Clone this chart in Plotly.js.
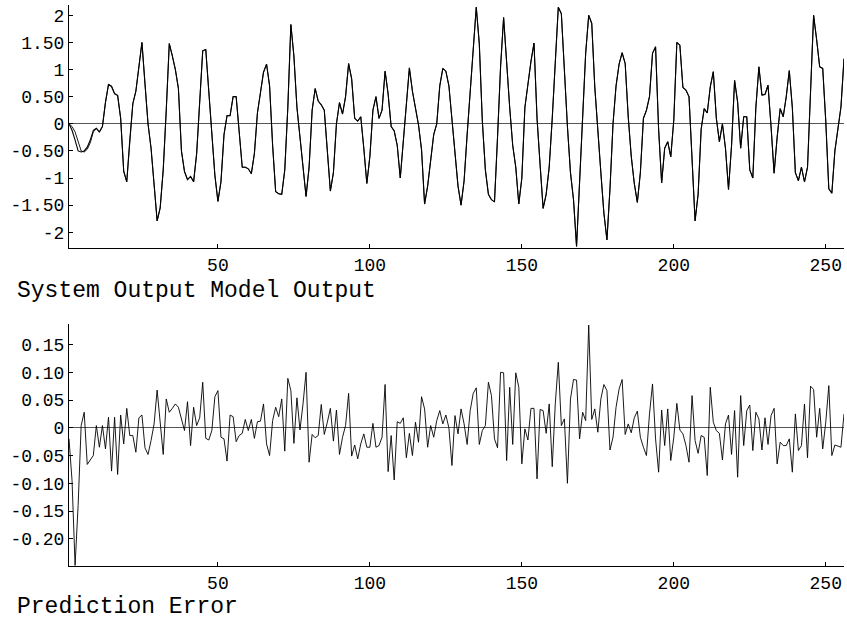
<!DOCTYPE html>
<html>
<head>
<meta charset="utf-8">
<script src="https://cdn.plot.ly/plotly-3.0.1.min.js"></script>
<style>html,body{margin:0;padding:0;background:#fff;}#chart{width:847px;height:623px;}</style>
</head>
<body>
<div id="chart"></div>
<script>
// System output (samples 1..256)
const systemOutput = [
 0.0,-0.12,-0.3,-0.5,-0.52,-0.5,-0.43,-0.3,-0.12,-0.08,
 -0.15,-0.05,0.4,0.73,0.68,0.55,0.52,0.1,-0.88,-1.07,
 -0.3,0.37,0.6,1.05,1.5,0.74,0.0,-0.45,-1.1,-1.79,
 -1.55,-0.85,0.25,1.48,1.25,1.0,0.65,-0.5,-0.88,-1.03,
 -0.97,-1.07,-0.55,0.35,1.35,1.37,0.6,-0.2,-0.95,-1.43,
 -1.07,-0.2,0.15,0.15,0.5,0.5,-0.2,-0.8,-0.8,-0.83,
 -0.92,-0.55,0.2,0.6,0.95,1.1,0.7,-0.4,-1.25,-1.29,
 -1.3,-0.85,0.3,1.83,1.25,0.3,-0.25,-0.8,-1.34,-0.8,
 0.25,0.65,0.42,0.35,0.25,-0.5,-1.24,-0.9,0.0,0.39,
 0.18,0.5,1.11,0.83,0.1,0.05,0.13,-0.45,-1.1,-0.6,
 0.25,0.5,0.1,0.25,0.97,0.55,-0.05,-0.13,-0.4,-1.0,
 -0.3,0.5,1.03,0.6,0.3,-0.02,-0.48,-1.48,-1.15,-0.65,
 -0.2,0.0,0.7,1.02,0.97,0.7,0.05,-0.55,-1.15,-1.5,
 -1.05,-0.2,0.6,1.55,2.15,1.48,0.05,-0.85,-1.3,-1.4,
 -1.44,-0.25,1.05,1.96,1.1,0.3,-0.4,-0.8,-1.48,-1.0,
 0.3,0.75,1.15,1.49,0.1,-0.75,-1.56,-1.3,-0.8,0.1,
 1.1,2.15,2.03,0.87,-0.05,-0.9,-1.4,-2.26,-0.98,0.25,
 1.3,2.0,1.85,0.68,-0.2,-0.9,-1.65,-2.14,-1.2,0.0,
 0.7,1.1,1.31,1.11,0.13,-0.6,-1.1,-1.45,-0.9,0.1,
 0.25,0.5,1.3,1.42,-0.1,-1.09,-0.45,-0.33,-0.61,0.07,
 1.5,1.45,0.67,0.62,0.5,-0.6,-1.79,-1.3,-0.1,0.28,
 0.2,0.68,0.96,0.1,-0.33,0.0,-0.45,-1.21,-0.4,0.8,
 0.4,-0.45,0.13,0.13,-0.85,-1.0,0.3,1.05,0.53,0.54,
 0.71,-0.05,-0.91,-0.25,0.28,0.13,0.5,0.98,0.3,-0.9,
 -1.05,-0.8,-1.07,-0.8,0.6,2.0,1.55,1.05,1.02,0.05,
 -1.2,-1.28,-0.5,-0.06,0.31,1.2
];
// Model output (samples 1..256)
const modelOutput = [
 0.0,-0.05,-0.15,-0.35,-0.5,-0.52,-0.47,-0.35,-0.15,-0.09,
 -0.15,-0.05,0.39,0.72,0.7,0.56,0.53,0.1,-0.87,-1.07,
 -0.3,0.37,0.6,1.05,1.5,0.74,0.0,-0.45,-1.1,-1.79,
 -1.55,-0.85,0.25,1.48,1.25,1.0,0.65,-0.5,-0.88,-1.03,
 -0.97,-1.07,-0.55,0.35,1.34,1.37,0.6,-0.2,-0.95,-1.43,
 -1.07,-0.2,0.15,0.15,0.5,0.5,-0.2,-0.8,-0.8,-0.83,
 -0.92,-0.55,0.2,0.6,0.95,1.1,0.7,-0.4,-1.25,-1.29,
 -1.3,-0.85,0.3,1.83,1.25,0.3,-0.25,-0.8,-1.34,-0.8,
 0.25,0.65,0.42,0.35,0.25,-0.5,-1.24,-0.9,0.0,0.39,
 0.18,0.5,1.11,0.83,0.1,0.05,0.13,-0.45,-1.1,-0.6,
 0.25,0.5,0.1,0.25,0.97,0.55,-0.05,-0.13,-0.4,-1.0,
 -0.3,0.5,1.03,0.6,0.3,-0.02,-0.48,-1.48,-1.15,-0.65,
 -0.2,0.0,0.7,1.02,0.97,0.7,0.05,-0.55,-1.15,-1.5,
 -1.05,-0.2,0.6,1.55,2.15,1.48,0.05,-0.85,-1.3,-1.4,
 -1.44,-0.25,1.05,1.96,1.1,0.3,-0.4,-0.8,-1.48,-1.0,
 0.3,0.75,1.15,1.49,0.1,-0.75,-1.56,-1.3,-0.8,0.1,
 1.1,2.15,2.03,0.87,-0.05,-0.9,-1.4,-2.26,-0.98,0.25,
 1.3,2.0,1.85,0.68,-0.2,-0.9,-1.65,-2.14,-1.2,0.0,
 0.7,1.1,1.31,1.11,0.13,-0.6,-1.1,-1.45,-0.9,0.1,
 0.25,0.5,1.3,1.42,-0.1,-1.09,-0.45,-0.33,-0.61,0.07,
 1.5,1.45,0.67,0.62,0.5,-0.6,-1.79,-1.3,-0.1,0.28,
 0.2,0.68,0.96,0.1,-0.33,0.0,-0.45,-1.21,-0.4,0.8,
 0.4,-0.45,0.13,0.13,-0.85,-1.0,0.3,1.05,0.53,0.54,
 0.71,-0.05,-0.91,-0.25,0.28,0.13,0.5,0.98,0.3,-0.9,
 -1.05,-0.8,-1.07,-0.8,0.6,2.0,1.55,1.05,1.02,0.05,
 -1.2,-1.28,-0.5,-0.06,0.31,1.2
];
// Prediction error (samples 1..256)
const predictionError = [
 -0.02,-0.095,-0.248,-0.14,0.004,0.028,-0.066,-0.058,-0.05,0.004,
 -0.035,0.004,-0.038,0.019,-0.078,0.019,-0.084,0.023,-0.029,0.035,
 -0.014,-0.014,-0.044,0.018,0.023,-0.036,-0.048,-0.023,0.007,0.068,
 0.01,-0.048,0.052,0.028,0.035,0.043,0.037,0.013,-0.005,0.047,
 -0.032,0.037,0.004,0.018,0.082,-0.019,-0.022,-0.005,0.056,0.067,
 -0.017,-0.02,-0.06,0.023,0.02,-0.025,-0.014,-0.01,0.015,-0.005,
 0.015,-0.019,0.011,0.012,0.043,-0.029,-0.05,0.013,0.037,0.02,
 0.052,-0.042,0.089,0.067,-0.028,0.054,-0.004,0.043,0.1,-0.062,
 -0.012,-0.018,-0.014,0.042,-0.012,0.01,0.035,-0.024,0.032,-0.048,
 -0.017,0.004,0.062,-0.051,-0.031,-0.056,-0.029,-0.011,-0.035,-0.035,
 0.008,-0.035,-0.032,-0.017,0.078,-0.079,-0.014,-0.094,0.011,0.008,
 0.018,-0.054,-0.01,-0.05,0.01,-0.026,0.056,0.034,-0.035,0.004,
 -0.017,0.013,0.031,0.007,0.023,0.0,-0.068,0.022,-0.011,0.034,
 0.007,-0.03,0.031,0.062,0.072,-0.03,-0.005,0.004,0.082,0.058,
 -0.02,-0.036,0.1,0.099,-0.059,0.073,-0.03,0.099,0.073,-0.065,
 -0.002,-0.022,0.035,0.035,-0.092,0.033,0.031,-0.01,0.043,-0.07,
 0.043,0.118,0.004,0.016,-0.1,0.052,0.087,0.086,-0.02,0.028,
 0.013,0.185,0.015,0.034,-0.008,0.052,0.078,0.067,-0.04,-0.017,
 0.037,0.07,0.087,-0.012,0.007,-0.009,0.018,0.03,-0.017,-0.035,
 -0.05,0.025,0.079,-0.02,-0.08,0.032,-0.032,0.034,-0.059,-0.017,
 0.044,-0.004,-0.011,-0.032,-0.062,0.058,-0.023,-0.046,-0.014,-0.017,
 -0.086,0.073,0.01,-0.005,-0.01,-0.058,0.007,0.023,-0.048,0.031,
 -0.089,0.058,-0.032,0.031,0.041,-0.041,0.028,0.016,-0.04,0.018,
 -0.03,0.022,0.035,-0.065,-0.026,-0.032,-0.032,-0.02,-0.08,0.025,
 -0.041,-0.032,0.043,-0.054,0.075,0.069,-0.017,0.035,-0.038,0.01,
 0.076,-0.05,-0.031,-0.033,-0.035,0.025
];
const xTickVals = [50, 100, 150, 200, 250];
const xTickText = ["50", "100", "150", "200", "250"];
const topTickVals = [2, 1.5, 1, 0.5, 0, -0.5, -1, -1.5, -2];
const topTickText = ["2", "1.50", "1", "0.50", "0", "-0.50", "-1", "-1.50", "-2"];
const botTickVals = [0.15, 0.10, 0.05, 0, -0.05, -0.10, -0.15, -0.20];
const botTickText = ["0.15", "0.10", "0.05", "0", "-0.05", "-0.10", "-0.15", "-0.20"];
const topLabel = "System Output Model Output";
const botLabel = "Prediction Error";

const samples = systemOutput.map((_, i) => i + 1);

const W = 847, H = 623;
const FONT = "Liberation Mono, Courier New, monospace";
const xDom = [69 / W, 844 / W];
const topDom = [(H - 248) / H, (H - 5) / H];
const botDom = [(H - 566) / H, (H - 324) / H];

const traces = [
  {x: samples, y: systemOutput, type: "scatter", mode: "lines", line: {color: "#000", width: 1.1}, xaxis: "x", yaxis: "y", name: "System Output"},
  {x: samples, y: modelOutput, type: "scatter", mode: "lines", line: {color: "#000", width: 0.9}, xaxis: "x", yaxis: "y", name: "Model Output"},
  {x: samples, y: predictionError, type: "scatter", mode: "lines", line: {color: "#000", width: 0.9}, xaxis: "x2", yaxis: "y2", name: "Prediction Error"}
];

function xAxis(anchor) {
  return {
    domain: xDom, anchor: anchor, range: [1, 256],
    tickvals: xTickVals, ticktext: xTickText,
    ticks: "inside", ticklen: 4, tickcolor: "#000", tickwidth: 1,
    showline: true, linecolor: "#000", linewidth: 1,
    showgrid: false, zeroline: false,
    tickfont: {family: FONT, size: 18, color: "#000"}
  };
}
function yAxis(anchor, dom, range, tv, tt) {
  return {
    domain: dom, anchor: anchor, range: range,
    tickvals: tv, ticktext: tt,
    ticks: "inside", ticklen: 4, tickcolor: "#000", tickwidth: 1,
    showline: true, linecolor: "#000", linewidth: 1,
    showgrid: false, zeroline: true, zerolinecolor: "#555", zerolinewidth: 1,
    tickfont: {family: FONT, size: 18, color: "#000"}
  };
}

const layout = {
  width: W, height: H,
  margin: {l: 0, r: 0, t: 0, b: 0},
  paper_bgcolor: "#fff", plot_bgcolor: "#fff",
  showlegend: false,
  xaxis: xAxis("y"),
  yaxis: yAxis("x", topDom, [-2.29, 2.19], topTickVals, topTickText),
  xaxis2: xAxis("y2"),
  yaxis2: yAxis("x2", botDom, [-0.249, 0.187], botTickVals, botTickText),
  annotations: [
    {text: topLabel, xref: "paper", yref: "paper", x: 15 / W, y: (H - 291) / H, xanchor: "left", yanchor: "middle", showarrow: false, font: {family: FONT, size: 23, color: "#000"}},
    {text: botLabel, xref: "paper", yref: "paper", x: 15 / W, y: (H - 607) / H, xanchor: "left", yanchor: "middle", showarrow: false, font: {family: FONT, size: 23, color: "#000"}}
  ]
};

Plotly.newPlot("chart", traces, layout, {displayModeBar: false, staticPlot: true});
</script>
</body>
</html>
